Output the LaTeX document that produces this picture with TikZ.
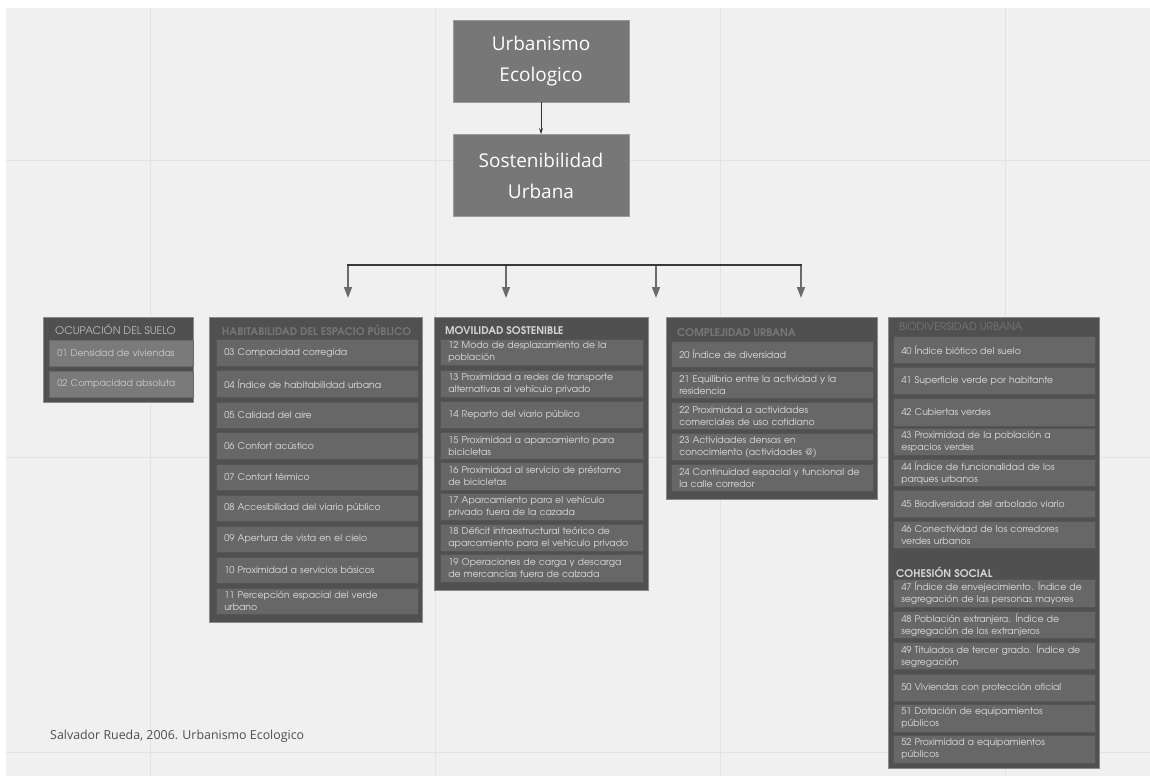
\documentclass[tikz,border=0pt]{standalone}
\usepackage{fontspec}
\setmainfont{Open Sans}
\newfontfamily\gothic{texgyreadventor}[Extension=.otf,UprightFont=*-regular,BoldFont=*-bold]
\usetikzlibrary{arrows.meta}
\definecolor{bgc}{HTML}{F0F0F0}
\definecolor{gridc}{HTML}{E2E2E2}
\definecolor{topfill}{HTML}{777777}
\definecolor{topdraw}{HTML}{9A9A9A}
\definecolor{outerfill}{HTML}{505050}
\definecolor{outerdraw}{HTML}{8A8A8A}
\definecolor{itemfill}{HTML}{676767}
\definecolor{itemdraw}{HTML}{555555}
\definecolor{itemlight}{HTML}{7A7A7A}
\definecolor{itemtext}{HTML}{DEDEDE}
\definecolor{hdrbright}{HTML}{D4D4D4}
\definecolor{hdrfaded}{HTML}{767676}
\definecolor{hdrmid}{HTML}{BDBDBD}
\definecolor{shadowc}{HTML}{3E3E3E}
\definecolor{footc}{HTML}{4E4E4E}
\tikzset{
  topbox/.style={fill=topfill,draw=topdraw,line width=0.8pt,text=white,align=center,
    minimum width=176pt,minimum height=82pt,inner sep=0pt,
    font=\fontsize{19}{31}\selectfont},
  outerbox/.style={fill=outerfill,draw=outerdraw,line width=0.6pt,anchor=north west,inner sep=0pt},
  itembox/.style={fill=itemfill,draw=itemdraw,line width=0.6pt,anchor=north west,
    inner xsep=8pt,inner ysep=0pt,align=left,text=itemtext,
    font=\gothic\fontsize{9.3}{12}\selectfont},
  lightitem/.style={itembox,fill=itemlight,draw=itemlight!85!black,text=itemtext!92!black},
  hdr/.style={anchor=west,inner sep=0pt,font=\gothic\bfseries\fontsize{10.6}{12}\selectfont},
  thinarrow/.style={draw=black!80,line width=0.8pt,-{Stealth[length=6pt,width=4pt]}},
  barline/.style={draw=black!78,line width=2pt},
  droparrow/.style={draw=black!58,line width=1.4pt,-{Triangle[length=11pt,width=8pt]}},
  gridline/.style={draw=gridc,line width=1pt},
}
\newcommand\itm[7][itembox]{%
  \pgfmathsetmacro\iw{#5-#3}\pgfmathsetmacro\ih{#6-#4}\pgfmathsetmacro\itw{#5-#3-16}%
  \fill[shadowc] (#3+1.2,#4+1.2) rectangle (#5+1.2,#6+1.2);
  \node[#1,minimum width=\iw pt,minimum height=\ih pt,text width=\itw pt] (#2) at (#3,#4) {#7};}
\newcommand\obox[5]{%
  \pgfmathsetmacro\iw{#4-#2}\pgfmathsetmacro\ih{#5-#3}%
  \node[outerbox,minimum width=\iw pt,minimum height=\ih pt] (#1) at (#2,#3) {};}
\begin{document}
\begin{tikzpicture}[x=1pt,y=-1pt]
\useasboundingbox (0,0) rectangle (1150,776);
\fill[white] (0,0) rectangle (1150,776);
\fill[bgc] (6,8) rectangle (1150,776);
% grid
\foreach \gx in {150,435,720,1005} \draw[gridline] (\gx,8) -- (\gx,776);
\foreach \gy in {160,457,752} \draw[gridline] (6,\gy) -- (1150,\gy);

% top boxes
\node[topbox] (ue) at (541,61) {Urbanismo\\Ecologico};
\node[topbox] (su) at (541,175.5) {Sostenibilidad\\Urbana};
\draw[thinarrow] (ue.south) -- (su.north);

% distribution bar
\coordinate (b1) at (348,265);
\coordinate (b2) at (506,265);
\coordinate (b3) at (656,265);
\coordinate (b4) at (801,265);
\coordinate (e1) at (348,298);
\coordinate (e2) at (506,298);
\coordinate (e3) at (656,298);
\coordinate (e4) at (801,298);
\draw[droparrow] (b1) -- (e1);
\draw[droparrow] (b2) -- (e2);
\draw[droparrow] (b3) -- (e3);
\draw[droparrow] (b4) -- (e4);
\draw[barline] ([xshift=-0.7pt]b1) -- ([xshift=0.7pt]b4);

% Ocupacion del suelo
\obox{ocu}{43}{317}{193}{402}
\node[hdr,text=hdrmid,font=\gothic\fontsize{10.5}{12}\selectfont] (hocu) at (55,330) {OCUPACIÓN DEL SUELO};
\itm[lightitem]{i01}{49}{340}{193}{366}{01 Densidad de viviendas}
\itm[lightitem]{i02}{49}{371}{193}{397}{02 Compacidad absoluta}

% Habitabilidad
\obox{hab}{209}{317}{422}{622}
\node[hdr,text=hdrfaded] (hhab) at (222,330) {HABITABILIDAD DEL ESPACIO PÚBLICO};
\itm{i03}{216}{339}{418}{366}{03 Compacidad corregida}
\itm{i04}{216}{370}{418}{397}{04 Índice de habitabilidad urbana}
\itm{i05}{216}{402}{418}{428}{05 Calidad del aire}
\itm{i06}{216}{432}{418}{459}{06 Confort acústico}
\itm{i07}{216}{464}{418}{490}{07 Confort térmico}
\itm{i08}{216}{495}{418}{521}{08 Accesibilidad del viario público}
\itm{i09}{216}{526}{418}{552}{09 Apertura de vista en el cielo}
\itm{i10}{216}{557}{418}{583}{10 Proximidad a servicios básicos}
\itm{i11}{216}{588}{418}{614}{11 Percepción espacial del verde\\urbano}

% Movilidad
\obox{mov}{434}{317}{648}{590}
\node[hdr,text=hdrbright] (hmov) at (445,331) {MOVILIDAD SOSTENIBLE};
\itm{i12}{440}{339}{643}{365}{12 Modo de desplazamiento de la\\población}
\itm{i13}{440}{370}{643}{397}{13 Proximidad a redes de transporte\\alternativas al vehículo privado}
\itm{i14}{440}{401}{643}{428}{14 Reparto del viario público}
\itm{i15}{440}{432}{643}{459}{15 Proximidad a aparcamiento para\\bicicletas}
\itm{i16}{440}{462}{643}{490}{16 Proximidad al servicio de préstamo\\de bicicletas}
\itm{i17}{440}{493}{643}{520}{17 Aparcamiento para el vehículo\\privado fuera de la cazada}
\itm{i18}{440}{524}{643}{551}{18 Déficit infraestructural teórico de\\aparcamiento para el vehículo privado}
\itm{i19}{440}{554}{643}{582}{19 Operaciones de carga y descarga\\de mercancías fuera de calzada}

% Complejidad
\obox{com}{666}{317}{877}{499}
\node[hdr,text=hdrfaded] (hcom) at (677,333) {COMPLEJIDAD URBANA};
\itm{i20}{671}{341}{873}{367}{20 Índice de diversidad}
\itm{i21}{671}{371}{873}{398}{21 Equilibrio entre la actividad y la\\residencia}
\itm{i22}{671}{402}{873}{429}{22 Proximidad a actividades\\comerciales de uso cotidiano}
\itm{i23}{671}{433}{873}{460}{23 Actividades densas en\\conocimiento (actividades @)}
\itm{i24}{671}{464}{873}{491}{24 Continuidad espacial y funcional de\\la calle corredor}

% Biodiversidad + Cohesion
\obox{bio}{888}{317}{1099}{768}
\node[hdr,text=hdrfaded,font=\gothic\fontsize{10.5}{12}\selectfont] (hbio) at (899,327) {BIODIVERSIDAD URBANA};
\itm{i40}{893}{336}{1095}{363}{40 Índice biótico del suelo}
\itm{i41}{893}{367}{1095}{394}{41 Superficie verde por habitante}
\itm{i42}{893}{398}{1095}{426}{42 Cubiertas verdes}
\itm{i43}{893}{428}{1095}{455}{43 Proximidad de la población a\\espacios verdes}
\itm{i44}{893}{459}{1095}{486}{44 Índice de funcionalidad de los\\parques urbanos}
\itm{i45}{893}{490}{1095}{517}{45 Biodiversidad del arbolado viario}
\itm{i46}{893}{521}{1095}{548}{46 Conectividad de los corredores\\verdes urbanos}
\node[hdr,text=hdrbright] (hcoh) at (896,572) {COHESIÓN SOCIAL};
\itm{i47}{893}{579}{1095}{607}{47 Índice de envejecimiento. Índice de\\segregación de las personas mayores}
\itm{i48}{893}{611}{1095}{638}{48 Población extranjera. Índice de\\segregación de los extranjeros}
\itm{i49}{893}{642}{1095}{669}{49 Titulados de tercer grado. Índice de\\segregación}
\itm{i50}{893}{674}{1095}{701}{50 Viviendas con protección oficial}
\itm{i51}{893}{704}{1095}{732}{51 Dotación de equipamientos\\públicos}
\itm{i52}{893}{735}{1095}{763}{52 Proximidad a equipamientos\\públicos}

% footer
\node[anchor=west,inner sep=0pt,text=footc,font=\fontsize{12.4}{14}\selectfont] (src) at (50,736) {Salvador Rueda, 2006. Urbanismo Ecologico};
\end{tikzpicture}
\end{document}
